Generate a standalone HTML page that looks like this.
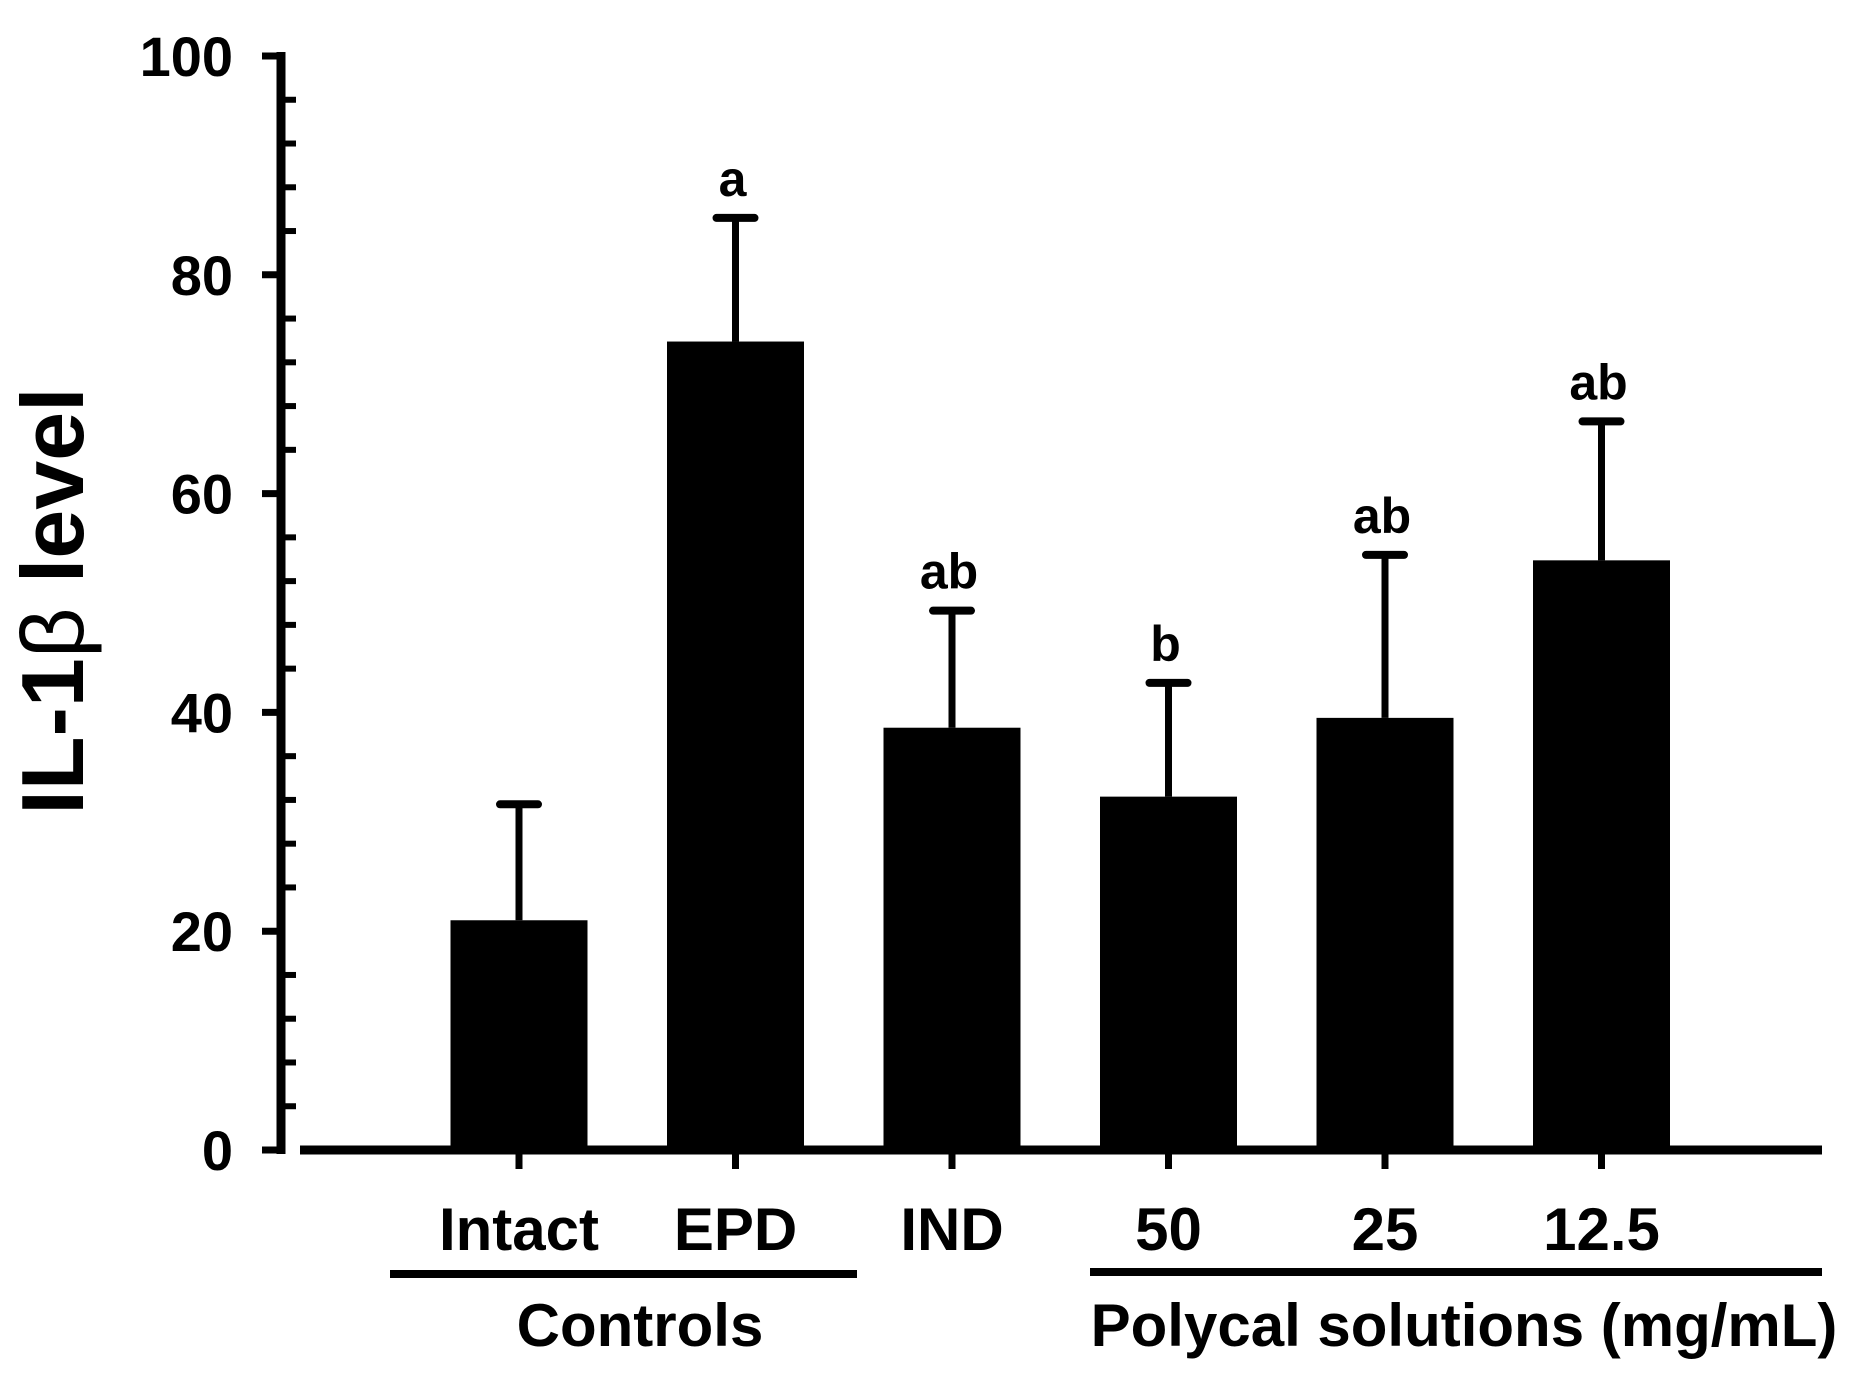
<!DOCTYPE html>
<html><head><meta charset="utf-8"><style>
html,body{margin:0;padding:0;background:#fff;}
svg text{font-family:"Liberation Sans",Arial,sans-serif;font-weight:bold;fill:#000;}
</style></head><body>
<svg id="chart" width="1870" height="1392" viewBox="0 0 1870 1392" xmlns="http://www.w3.org/2000/svg">
<g id="axes"></g>
<g id="bars"></g>
<text transform="translate(83,601) rotate(-90)" text-anchor="middle" font-size="88">IL-1<tspan font-weight="normal">β</tspan> level</text>
<line x1="390" y1="1274" x2="857" y2="1274" stroke="#000" stroke-width="8"/>
<text x="640" y="1346" text-anchor="middle" font-size="60">Controls</text>
<line x1="1090" y1="1272" x2="1822" y2="1272" stroke="#000" stroke-width="8"/>
<text x="1464" y="1346" text-anchor="middle" font-size="60">Polycal solutions (mg/mL)</text>
</svg>
<script>
const categories = ["Intact","EPD","IND","50","25","12.5"];
const means = [21, 73.9, 38.6, 32.3, 39.5, 53.9];
const errTops = [31.6, 85.2, 49.3, 42.7, 54.4, 66.6];
const sigLetters = ["", "a", "ab", "b", "ab", "ab"];
const yTicks = [0,20,40,60,80,100];

const NS="http://www.w3.org/2000/svg";
const Y0=1150, Y100=56;
function yScale(v){return Y0-(Y0-Y100)*v/100;}
const firstCenter=519, step=216.5, barW=137;
function xScale(i){return firstCenter+step*i;}
function mk(tag,attrs,parent){const e=document.createElementNS(NS,tag);for(const k in attrs)e.setAttribute(k,attrs[k]);parent.appendChild(e);return e;}

const axes=document.getElementById('axes');
const bars=document.getElementById('bars');
let el=mk('line',{x1:281,y1:yScale(100)-4,x2:281,y2:yScale(0)+4,stroke:'#000','stroke-width':9},axes);


el=mk('line',{x1:300,y1:Y0,x2:1822,y2:Y0,stroke:'#000','stroke-width':9},axes);


yTicks.forEach(t=>{
  const y=yScale(t);
  let tk=mk('line',{x1:262,y1:y,x2:281,y2:y,stroke:'#000','stroke-width':7},axes);
  
  
  let lb=mk('text',{x:233,y:y+20,'text-anchor':'end','font-size':56},axes);
  lb.textContent=String(t);
  
  
});
for(let v=4;v<100;v+=4){
  if(v%20===0)continue;
  const y=yScale(v);
  let mt=mk('line',{x1:281,y1:y,x2:296,y2:y,stroke:'#000','stroke-width':6},axes);
  
  
}
categories.forEach((c,i)=>{
  const cx=xScale(i);
  const top=yScale(means[i]);
  let r=mk('rect',{x:cx-barW/2,y:top,width:barW,height:Y0-top,fill:'#000'},bars);
  
  
  const et=yScale(errTops[i]);
  let ev=mk('line',{x1:cx,y1:top,x2:cx,y2:et,stroke:'#000','stroke-width':7},bars);
  
  
  let ec=mk('line',{x1:cx-19,y1:et,x2:cx+19,y2:et,stroke:'#000','stroke-width':8,'stroke-linecap':'round'},bars);
  
  
  if(sigLetters[i]){
    let sl=mk('text',{x:cx-3,y:et-22,'text-anchor':'middle','font-size':50},bars);
    sl.textContent=sigLetters[i];
    
    
  }
  let xt=mk('line',{x1:cx,y1:Y0,x2:cx,y2:1169,stroke:'#000','stroke-width':7},axes);
  
  
  let xl=mk('text',{x:cx,y:1250,'text-anchor':'middle','font-size':60},axes);
  xl.textContent=c;
  
  
});
</script>
</body></html>
